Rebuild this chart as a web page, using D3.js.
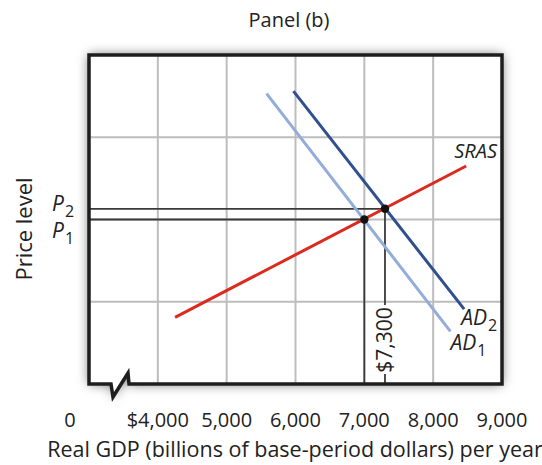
<!DOCTYPE html>
<html><head><meta charset="utf-8">
<script src="https://cdn.jsdelivr.net/npm/d3@7"></script>
<style>
html,body{margin:0;padding:0;background:#fff;}
svg{display:block;font-family:"Open Sans",sans-serif;}
</style></head>
<body>
<svg id="chart" width="542" height="465"></svg>
<script>
// ---- data ----
const xTicks = [4000, 5000, 6000, 7000, 8000, 9000];
const xTickLabels = ["$4,000", "5,000", "6,000", "7,000", "8,000", "9,000"];
const yGrid = [1, 2, 3];
const srasLine = [[4250, 0.81], [8480, 2.65]];
const ad1Line = [[5580, 3.53], [8250, 0.64]];
const ad2Line = [[5970, 3.56], [8450, 0.91]];
const equilibria = [
  {gdp: 7000, price: 2.0, label: "P", sub: "1"},
  {gdp: 7300, price: 2.13, label: "P", sub: "2"}
];
const gdpLabel = "$7,300";

// ---- layout ----
const L = 89, R = 502, T = 55, B = 384;
const x = d3.scaleLinear().domain([3000, 9000]).range([L, R]);
const y = d3.scaleLinear().domain([0, 4]).range([B, T]);
const svg = d3.select("#chart");

const defs = svg.append("defs");
const f = defs.append("filter").attr("id", "sh").attr("x", "-10%").attr("y", "-10%").attr("width", "120%").attr("height", "120%");
f.append("feDropShadow").attr("dx", 0).attr("dy", 0).attr("stdDeviation", 6).attr("flood-color", "#000").attr("flood-opacity", 0.6);

// box path with axis break
const boxPath = `M${L},${B} L${L},${T} L${R},${T} L${R},${B} L${L + 40},${B} L${L + 39},${B - 11} L${L + 24},${B + 13} L${L + 22},${B} Z`;
svg.append("path").attr("d", boxPath).attr("fill", "#fff").attr("filter", "url(#sh)");

// grid
svg.append("g").selectAll("line").data(xTicks.slice(0, -1)).join("line")
  .attr("x1", d => x(d)).attr("x2", d => x(d)).attr("y1", T).attr("y2", B)
  .attr("stroke", "#bdbdbd").attr("stroke-width", 2);
svg.append("g").selectAll("line").data(yGrid).join("line")
  .attr("x1", L).attr("x2", R).attr("y1", d => y(d)).attr("y2", d => y(d))
  .attr("stroke", "#bdbdbd").attr("stroke-width", 2);

// guide lines
const e1 = equilibria[0], e2 = equilibria[1];
const g = svg.append("g").attr("stroke", "#3a3a3a").attr("stroke-width", 1.8).attr("fill", "none");
equilibria.forEach(e => {
  g.append("line").attr("x1", L).attr("x2", x(e.gdp)).attr("y1", y(e.price)).attr("y2", y(e.price));
});
g.append("line").attr("x1", x(e1.gdp)).attr("x2", x(e1.gdp)).attr("y1", y(e1.price)).attr("y2", B);
g.append("line").attr("x1", x(e2.gdp)).attr("x2", x(e2.gdp)).attr("y1", y(e2.price)).attr("y2", 305);
g.append("line").attr("x1", x(e2.gdp)).attr("x2", x(e2.gdp)).attr("y1", 374).attr("y2", B);

// curves
const line = d3.line().x(d => x(d[0])).y(d => y(d[1]));
svg.append("path").attr("d", line(ad1Line)).attr("stroke", "#93acd9").attr("stroke-width", 3).attr("fill", "none");
svg.append("path").attr("d", line(ad2Line)).attr("stroke", "#2f4f8e").attr("stroke-width", 3).attr("fill", "none");
svg.append("path").attr("d", line(srasLine)).attr("stroke", "#db2a1e").attr("stroke-width", 3).attr("fill", "none");

// points
svg.append("g").selectAll("circle").data(equilibria).join("circle")
  .attr("cx", d => x(d.gdp)).attr("cy", d => y(d.price)).attr("r", 4.2).attr("fill", "#111");

// border on top
svg.append("path").attr("d", boxPath).attr("fill", "none").attr("stroke", "#1e1e1e").attr("stroke-width", 3.5).attr("stroke-linejoin", "miter");

// curve labels
function subLabel(xp, yp, main, sub, fs) {
  const t = svg.append("text").attr("x", xp).attr("y", yp).attr("font-size", fs || 20).attr("font-style", "italic").attr("fill", "#222");
  t.append("tspan").text(main);
  if (sub) t.append("tspan").attr("font-size", 16).attr("font-style", "normal").attr("dy", 6).attr("dx", 1).text(sub);
  return t;
}
const srasEnd = srasLine[1], ad1End = ad1Line[1], ad2End = ad2Line[1];
subLabel(x(srasEnd[0]) - 12, y(srasEnd[1]) - 8, "SRAS", null, 20);
subLabel(x(ad2End[0]) - 3, y(ad2End[1]) + 16, "AD", "2", 21);
subLabel(x(ad1End[0]), y(ad1End[1]) + 19, "AD", "1", 21);

// price labels
subLabel(52, y(e2.price) + 2, e2.label, e2.sub, 21);
subLabel(52, y(e1.price) + 18, e1.label, e1.sub, 21);

// $7,300 rotated
svg.append("text").attr("transform", `translate(${x(e2.gdp) + 7},340) rotate(-90)`)
  .attr("text-anchor", "middle").attr("font-size", 21).attr("fill", "#222").text(gdpLabel);

// x tick labels
svg.append("g").selectAll("text").data(xTicks).join("text")
  .attr("x", d => x(d)).attr("y", 427).attr("text-anchor", "middle").attr("font-size", 20).attr("fill", "#222")
  .text((d, i) => xTickLabels[i]);
svg.append("text").attr("x", 70).attr("y", 427).attr("text-anchor", "middle").attr("font-size", 20).attr("fill", "#222").text("0");

// titles
svg.append("text").attr("x", 289).attr("y", 27).attr("text-anchor", "middle").attr("font-size", 20).attr("fill", "#222").text("Panel (b)");
svg.append("text").attr("x", 295).attr("y", 457).attr("text-anchor", "middle").attr("font-size", 21.5).attr("fill", "#222")
  .text("Real GDP (billions of base-period dollars) per year");
svg.append("text").attr("transform", "translate(32,229) rotate(-90)").attr("text-anchor", "middle").attr("font-size", 22).attr("fill", "#222").text("Price level");
</script>
</body></html>
